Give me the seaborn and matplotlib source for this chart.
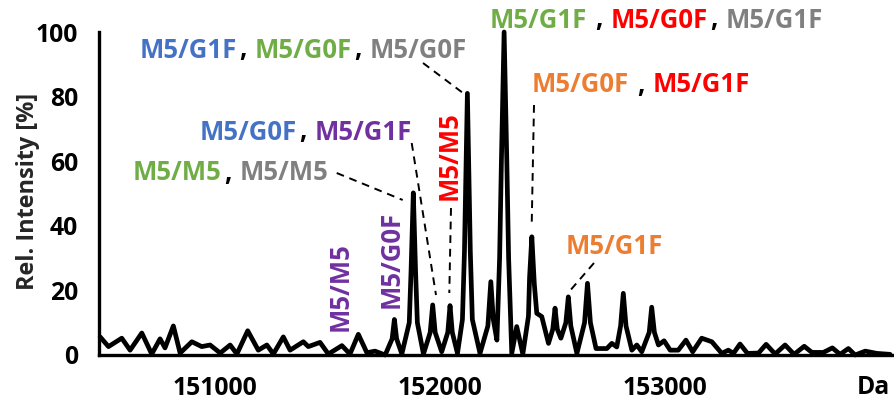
import matplotlib
matplotlib.use("Agg")
import matplotlib.pyplot as plt
import seaborn as sns
import pandas as pd

# ---------------- data ----------------
mass_da = [150491, 150528, 150587, 150624, 150676, 150720, 150757, 150779, 150816, 150846,
           150898, 150942, 150979, 151024, 151068, 151098, 151146, 151193, 151231, 151260,
           151304, 151334, 151393, 151415, 151467, 151504, 151564, 151600, 151637, 151675,
           151711, 151756, 151787, 151797, 151807, 151830, 151863, 151871, 151881, 151891,
           151899, 151926, 151956, 151967, 151978, 152007, 152034, 152044, 152054, 152077,
           152099, 152108, 152114, 152121, 152128, 152134, 152143, 152177, 152212, 152225,
           152236, 152252, 152264, 152272, 152284, 152296, 152304, 152318, 152340, 152367,
           152392, 152397, 152407, 152418, 152429, 152451, 152481, 152500, 152510, 152520,
           152536, 152558, 152569, 152580, 152607, 152641, 152654, 152667, 152692, 152740,
           152762, 152784, 152801, 152813, 152825, 152851, 152873, 152895, 152928, 152939,
           152951, 152969, 152994, 153021, 153057, 153091, 153121, 153161, 153206, 153250,
           153279, 153302, 153331, 153364, 153413, 153447, 153487, 153531, 153571, 153616,
           153650, 153701, 153741, 153775, 153812, 153842, 153887, 153938, 153997]
rel_intensity = [5.6, 2.6, 5.2, 1.5, 6.8, 0.3, 5.0, 2.2, 9.0, 0.6,
                 4.1, 2.6, 3.1, 0.6, 3.1, 0.3, 7.5, 1.5, 3.1, 0.3,
                 5.6, 1.5, 4.1, 2.6, 3.9, 0.3, 2.9, 0.3, 6.4, 0.7,
                 1.2, 0.0, 5.0, 11.0, 5.0, 0.3, 10.0, 26.0, 50.2, 26.0,
                 10.0, 0.3, 7.0, 15.5, 7.0, 1.0, 7.0, 15.3, 7.0, 0.5,
                 11.0, 32.0, 55.0, 81.0, 55.0, 32.0, 11.0, 0.5, 9.0, 22.7,
                 11.0, 4.6, 30.0, 60.0, 100.0, 60.0, 30.0, 0.5, 8.8, 0.3,
                 12.0, 24.0, 36.6, 22.0, 12.9, 11.9, 3.6, 8.0, 14.5, 8.0,
                 5.2, 10.0, 18.0, 9.0, 0.5, 10.0, 22.2, 10.0, 2.0, 2.0,
                 3.6, 2.5, 9.0, 19.1, 9.0, 1.5, 3.1, 1.0, 7.0, 14.8,
                 7.0, 3.1, 4.4, 1.5, 1.5, 4.6, 1.0, 5.2, 4.1, 0.5,
                 1.5, 0.5, 3.4, 0.5, 0.6, 3.3, 0.3, 3.1, 0.2, 2.7,
                 0.8, 0.8, 2.2, 0.2, 2.0, 0.0, 1.2, 0.5, 0.2]

x_ticks = [150500, 151000, 151500, 152000, 152500, 153000, 153500]
x_tick_labels = ["", "151000", "", "152000", "", "153000", ""]
y_ticks = [0, 10, 20, 30, 40, 50, 60, 70, 80, 90, 100]
y_tick_labels = ["0", "", "20", "", "40", "", "60", "", "80", "", "100"]

BLUE, GREEN, GRAY = "#4472C4", "#70AD47", "#808080"
PURPLE, RED, ORANGE, BLACK = "#7030A0", "#FF0000", "#ED7D31", "#000000"

# ---------------- figure ----------------
sns.set_theme(style="white")
plt.rcParams["font.family"] = ["Open Sans", "DejaVu Sans"]
plt.rcParams["font.weight"] = "bold"
plt.rcParams["lines.linewidth"] = 3.4

W, H = 895, 400
fig = plt.figure(figsize=(W / 100, H / 100), dpi=100)
AX_L, AX_R, AX_T, AX_B = 99, 893, 32, 355
ax = fig.add_axes([AX_L / W, (H - AX_B) / H, (AX_R - AX_L) / W, (AX_B - AX_T) / H])
XMIN, XMAX = 150486, 154010
ax.set_xlim(XMIN, XMAX)
ax.set_ylim(0, 100)

renderer = fig.canvas.get_renderer()


def fit_size(text, target_px, ref=10):
    t = fig.text(0, 0, text, fontsize=ref, fontweight="bold")
    w = t.get_window_extent(renderer).width
    t.remove()
    return ref * target_px / w


ANN_FS = fit_size("M5/G1F", 97)
TICK_FS = fit_size("151000", 85)
YLAB_FS = fit_size("Rel. Intensity [%]", 198)

df = pd.DataFrame({"Da": mass_da, "Rel": rel_intensity})
sns.lineplot(data=df, x="Da", y="Rel", ax=ax, color="black", lw=3.4,
             estimator=None, sort=False)
trace = ax.get_lines()[-1]
trace.set_linewidth(3.4)
trace.set_clip_on(False)
trace.set_solid_joinstyle("round")
trace.set_solid_capstyle("round")

for s in ["top", "right"]:
    ax.spines[s].set_visible(False)
for s in ["left", "bottom"]:
    ax.spines[s].set_linewidth(2.4)
    ax.spines[s].set_color("black")

ax.set_xticks(x_ticks)
ax.set_xticklabels(x_tick_labels)
ax.set_yticks(y_ticks)
ax.set_yticklabels(y_tick_labels)
ax.tick_params(axis="both", direction="out", length=11, width=1.0, color="#444444",
               labelsize=TICK_FS, colors="#444444", labelcolor="black")
ax.tick_params(axis="x", pad=4)
ax.tick_params(axis="y", pad=4)
for lab in ax.get_xticklabels() + ax.get_yticklabels():
    lab.set_fontweight("bold")

ax.set_xlabel("")
ax.set_ylabel("Rel. Intensity [%]", fontsize=YLAB_FS, fontweight="bold",
              rotation=90, va="center", ha="center")
ax.yaxis.set_label_coords((28 - AX_L) / (AX_R - AX_L), (AX_B - 191) / (AX_B - AX_T))

ax.text((890 - AX_L) / (AX_R - AX_L), (AX_B - 388) / (AX_B - AX_T), "Da",
        transform=ax.transAxes, ha="right", va="center", fontsize=TICK_FS,
        fontweight="bold", color="black")


# ---------------- annotations (layout in reference pixels) ----------------
def X(p):
    return XMIN + (p - AX_L) / (AX_R - AX_L) * (XMAX - XMIN)


def Y(p):
    return (AX_B - p) / (AX_B - AX_T) * 100.0


def multicolor(pieces, x_px, y_px):
    x = X(x_px)
    for text, color, gap in pieces:
        t = ax.text(x, Y(y_px), text, color=color, fontsize=ANN_FS, fontweight="bold",
                    ha="left", va="center")
        bb = t.get_window_extent(renderer)
        x = ax.transData.inverted().transform((bb.x1 + gap, bb.y0))[0]


multicolor([("M5/G1F", BLUE, 2), (",", BLACK, 8), ("M5/G0F", GREEN, 2), (",", BLACK, 8),
            ("M5/G0F", GRAY, 0)], 140, 50)
multicolor([("M5/G0F", BLUE, 2), (",", BLACK, 8), ("M5/G1F", PURPLE, 0)], 200, 132)
multicolor([("M5/M5", GREEN, 2), (",", BLACK, 8), ("M5/M5", GRAY, 0)], 133, 173)
multicolor([("M5/G1F", GREEN, 8), (",", BLACK, 8), ("M5/G0F", RED, 2), (",", BLACK, 8),
            ("M5/G1F", GRAY, 0)], 490, 20)
multicolor([("M5/G0F", ORANGE, 8), (",", BLACK, 8), ("M5/G1F", RED, 0)], 532, 85)
multicolor([("M5/G1F", ORANGE, 0)], 566, 247)

for text, color, cx, cy in [("M5/M5", RED, 449, 156),
                            ("M5/M5", PURPLE, 340, 287),
                            ("M5/G0F", PURPLE, 391, 259)]:
    ax.text(X(cx), Y(cy), text, color=color, fontsize=ANN_FS, fontweight="bold",
            rotation=90, ha="center", va="center")

for (x0, y0), (x1, y1) in [((423, 63), (463, 93)),
                           ((411.7, 143), (436, 295)),
                           ((336.7, 173), (402.7, 200)),
                           ((451, 208), (449.3, 293)),
                           ((534, 105), (531.7, 225)),
                           ((594, 263), (568, 293))]:
    ax.plot([X(x0), X(x1)], [Y(y0), Y(y1)], color="black", lw=1.4,
            linestyle=(0, (4, 3)), clip_on=False)

fig.savefig("out.png", dpi=100)
